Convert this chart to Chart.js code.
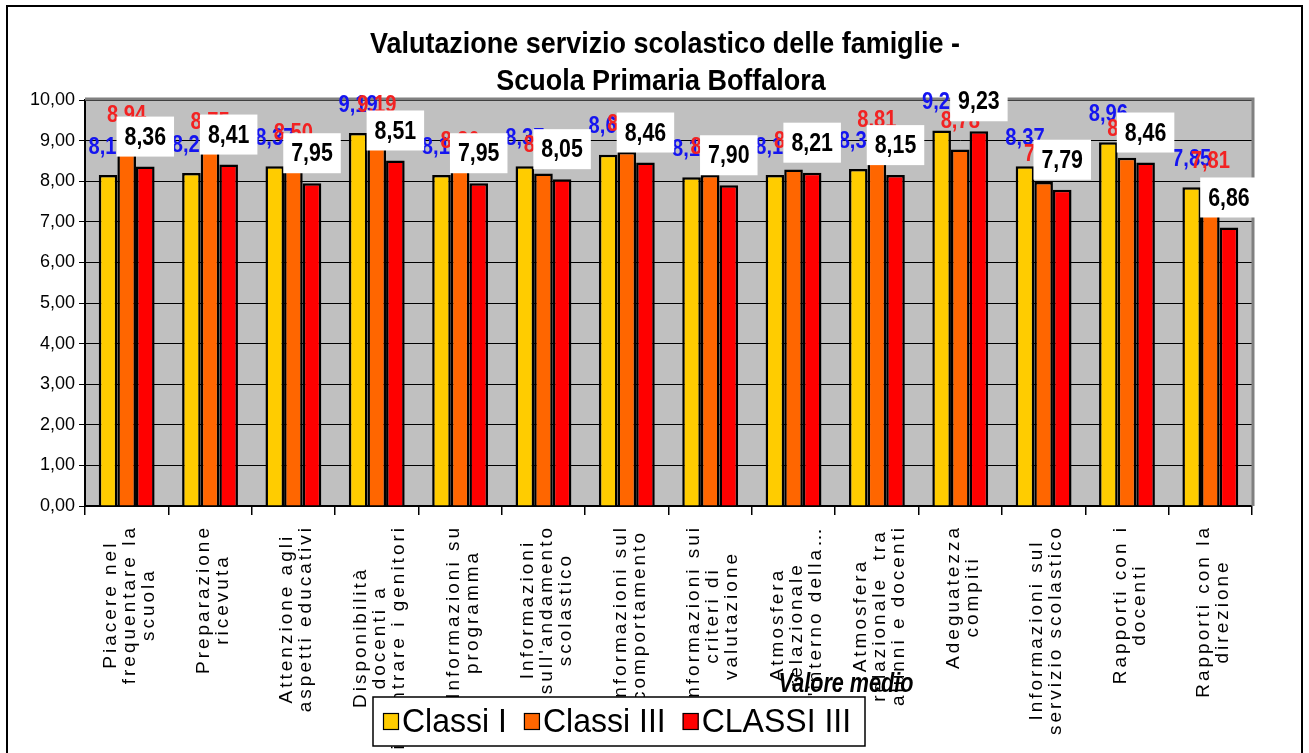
<!DOCTYPE html>
<html>
<head>
<meta charset="utf-8">
<script src="https://cdn.jsdelivr.net/npm/chart.js@4.4.1/dist/chart.umd.min.js"></script>
<style>
  html, body { margin: 0; padding: 0; background: #fff; overflow: hidden; }
  #wrap { position: relative; width: 1309px; height: 753px; }
  #frame { position: absolute; left: 6px; top: 5px; width: 1293px; height: 800px; border: 2px solid #000; pointer-events: none; }
</style>
</head>
<body>
<div id="wrap">
  <canvas id="chart" width="1309" height="753"></canvas>
  <div id="frame"></div>
</div>
<script>
// dati
const categories = [
    "Piacere nel\nfrequentare la\nscuola",
    "Preparazione\nricevuta",
    "Attenzione agli\naspetti educativi",
    "Disponibilità\ndocenti a\nincontrare i genitori",
    "Informazioni su\nprogramma",
    "Informazioni\nsull'andamento\nscolastico",
    "Informazioni sul\ncomportamento",
    "Informazioni sui\ncriteri di\nvalutazione",
    "Atmosfera\nrelazionale\nall'interno della…",
    "Atmosfera\nrelazionale  tra\nalunni e docenti",
    "Adeguatezza\ncompiti",
    "Informazioni sul\nservizio scolastico",
    "Rapporti con i\ndocenti",
    "Rapporti con la\ndirezione"
];
const seriesNames = ["Classi I", "Classi III", "CLASSI III"];
const classiI = [8.15, 8.20, 8.37, 9.19, 8.15, 8.37, 8.65, 8.10, 8.15, 8.30, 9.25, 8.37, 8.96, 7.85];
const classiIII = [8.94, 8.75, 8.50, 9.19, 8.30, 8.19, 8.72, 8.15, 8.29, 8.81, 8.78, 7.98, 8.58, 7.81];
const classiIIIb = [8.36, 8.41, 7.95, 8.51, 7.95, 8.05, 8.46, 7.90, 8.21, 8.15, 9.23, 7.79, 8.46, 6.86];
const yTicks = [0, 1, 2, 3, 4, 5, 6, 7, 8, 9, 10];
const seriesColors = ["#FFCC00", "#FF6600", "#FF0000"];
const titleLines = ["Valutazione servizio scolastico delle famiglie -", "Scuola Primaria Boffalora"];

const regular = '"Liberation Sans", Arial, sans-serif';

function fmt(v) {
    return v.toFixed(2).replace(".", ",");
}

// testo "stretto" (come Arial Narrow) ottenuto comprimendo in orizzontale
function narrowText(ctx, txt, x, y, sx) {
    ctx.save();
    ctx.translate(x, y);
    ctx.scale(sx, 1);
    ctx.fillText(txt, 0, 0);
    ctx.restore();
}

const overlayPlugin = {
    id: "overlay",
    beforeDraw(chart) {
        const { ctx, chartArea: a } = chart;
        ctx.save();
        ctx.fillStyle = "#C0C0C0";
        ctx.fillRect(a.left, a.top, a.right - a.left, a.bottom - a.top);

        // titolo
        ctx.fillStyle = "#000";
        ctx.textAlign = "center";
        ctx.textBaseline = "middle";
        ctx.font = "bold 30px " + regular;
        const sx = 590 / ctx.measureText(titleLines[0]).width;
        narrowText(ctx, titleLines[0], 665, 45, sx);
        narrowText(ctx, titleLines[1], 661, 82, sx);
        ctx.restore();
    },
    beforeDatasetsDraw(chart) {
        // bordo grigio dell'area del grafico (alto e destra)
        const { ctx, chartArea: a } = chart;
        ctx.save();
        ctx.strokeStyle = "#808080";
        ctx.lineWidth = 3;
        ctx.beginPath();
        ctx.moveTo(a.left, a.top - 1);
        ctx.lineTo(a.right + 1, a.top - 1);
        ctx.lineTo(a.right + 1, a.bottom);
        ctx.stroke();
        ctx.restore();
    },
    afterDatasetsDraw(chart) {
        const ctx = chart.ctx;
        ctx.save();
        ctx.textAlign = "center";
        ctx.textBaseline = "middle";
        // etichette blu e rosse
        const labelColors = ["#1414F0", "#F22222"];
        [0, 1].forEach((i) => {
            const meta = chart.getDatasetMeta(i);
            ctx.font = "bold 24px " + regular;
            ctx.fillStyle = labelColors[i];
            meta.data.forEach((bar, j) => {
                narrowText(ctx, fmt(chart.data.datasets[i].data[j]), bar.x, bar.y - 28, 0.84);
            });
        });
        // etichette nere in riquadro bianco
        const meta = chart.getDatasetMeta(2);
        ctx.font = "bold 26px " + regular;
        meta.data.forEach((bar, j) => {
            const txt = fmt(chart.data.datasets[2].data[j]);
            const w = ctx.measureText(txt).width * 0.82 + 16;
            const h = 40;
            const bottom = bar.y - 10;
            ctx.fillStyle = "#fff";
            ctx.fillRect(bar.x - w / 2, bottom - h, w, h);
            ctx.fillStyle = "#000";
            narrowText(ctx, txt, bar.x, bottom - h / 2 + 1, 0.82);
        });
        ctx.restore();
    },
    afterDraw(chart) {
        const ctx = chart.ctx;
        const xs = chart.scales.x;
        const a = chart.chartArea;

        // etichette categorie ruotate
        ctx.save();
        ctx.font = "19px " + regular;
        ctx.letterSpacing = "3px";
        ctx.fillStyle = "#000";
        ctx.textAlign = "center";
        ctx.textBaseline = "middle";
        const lh = 19;
        categories.forEach((lbl, i) => {
            const lines = lbl.split("\n");
            const maxW = Math.max(...lines.map((l) => ctx.measureText(l).width));
            ctx.save();
            ctx.translate(xs.getPixelForValue(i) + 3, a.bottom + 19);
            ctx.rotate(-Math.PI / 2);
            lines.forEach((l, k) => {
                ctx.fillText(l, -maxW / 2, (k - (lines.length - 1) / 2) * lh);
            });
            ctx.restore();
        });
        ctx.restore();

        // titolo asse x
        ctx.save();
        ctx.font = "italic bold 27px " + regular;
        ctx.fillStyle = "#000";
        ctx.textAlign = "center";
        ctx.textBaseline = "middle";
        narrowText(ctx, "Valore medio", 846, 685, 0.8);
        ctx.restore();

        // legenda
        ctx.save();
        const lx = 373, ly = 697, lw = 492, lhh = 49;
        ctx.fillStyle = "#fff";
        ctx.fillRect(lx, ly, lw, lhh);
        ctx.strokeStyle = "#000";
        ctx.lineWidth = 1.5;
        ctx.strokeRect(lx, ly, lw, lhh);
        ctx.font = "33px " + regular;
        ctx.textBaseline = "middle";
        ctx.textAlign = "left";
        const sx = 0.97;
        let x = lx + 10;
        chart.data.datasets.forEach((d) => {
            ctx.fillStyle = d.backgroundColor;
            ctx.fillRect(x, ly + 16, 16, 17);
            ctx.strokeStyle = "#000";
            ctx.lineWidth = 1.2;
            ctx.strokeRect(x + 0.5, ly + 16.5, 15, 16);
            ctx.fillStyle = "#000";
            narrowText(ctx, d.label, x + 19, ly + 26, sx);
            x += 19 + ctx.measureText(d.label).width * sx + 17;
        });
        ctx.restore();
    }
};

const ctx = document.getElementById("chart").getContext("2d");
new Chart(ctx, {
    type: "bar",
    data: {
        labels: categories,
        datasets: [classiI, classiIII, classiIIIb].map((d, i) => ({
            label: seriesNames[i],
            data: d,
            backgroundColor: seriesColors[i],
            borderColor: "#000",
            borderWidth: 2.5,
            borderSkipped: "bottom",
            barPercentage: 1,
            categoryPercentage: 0.67
        }))
    },
    options: {
        responsive: false,
        animation: false,
        devicePixelRatio: 1,
        layout: { padding: { left: 0, right: 57, top: 100, bottom: 0 } },
        plugins: {
            legend: { display: false },
            tooltip: { enabled: false },
            title: { display: false }
        },
        scales: {
            x: {
                ticks: { display: false },
                grid: { drawOnChartArea: false, drawTicks: true, tickLength: 9, color: "#000", lineWidth: 1.5, offset: true },
                border: { display: true, color: "#000", width: 2 },
                afterFit(s) { s.height = 247; }
            },
            y: {
                min: 0,
                max: 10,
                afterBuildTicks(s) { s.ticks = yTicks.map((v) => ({ value: v })); },
                ticks: {
                    color: "#000",
                    font: { family: regular, size: 18 },
                    padding: 4,
                    callback: (v) => fmt(v)
                },
                grid: { color: "#000", lineWidth: 1, tickLength: 6 },
                border: { display: true, color: "#000", width: 2 },
                afterFit(s) { s.width = 85; }
            }
        }
    },
    plugins: [overlayPlugin]
});
</script>
</body>
</html>
